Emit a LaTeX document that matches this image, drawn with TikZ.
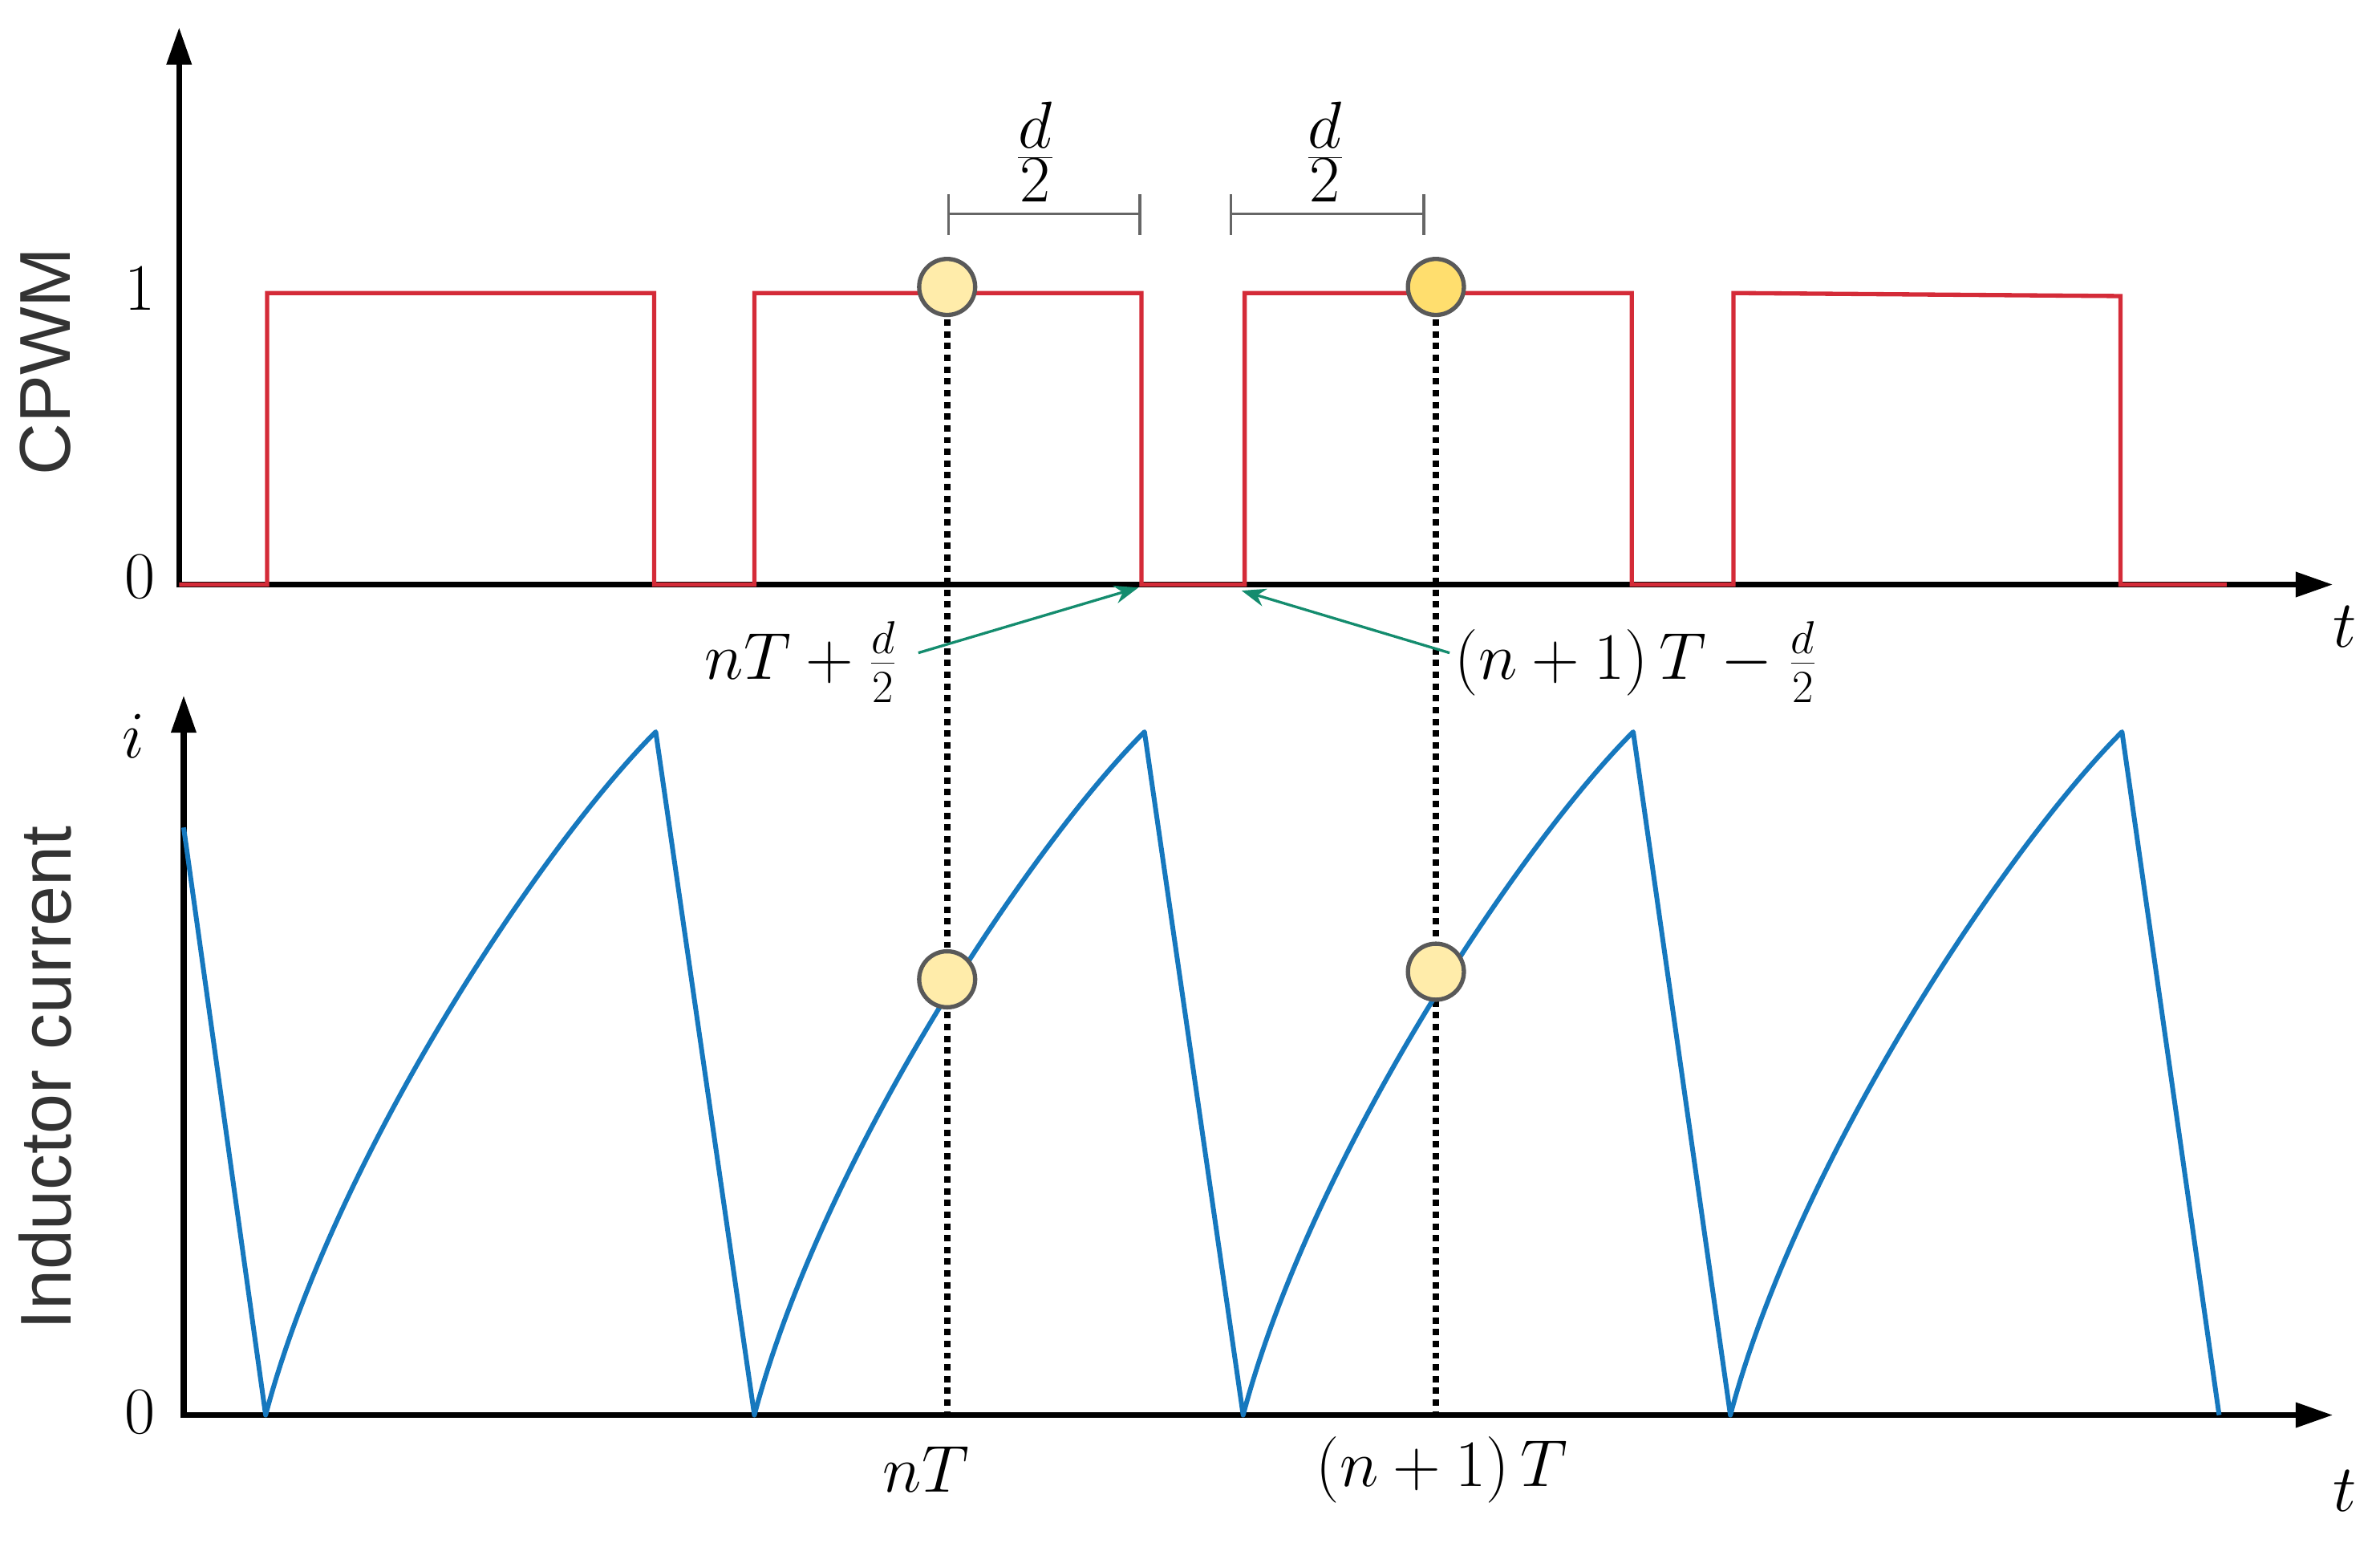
\documentclass[tikz,border=0pt]{standalone}
\usepackage{fontspec}
\newfontfamily\lab{Liberation Sans}
\usetikzlibrary{arrows.meta}
\definecolor{redw}{RGB}{212,43,56}
\definecolor{bluew}{RGB}{22,120,190}
\definecolor{grn}{RGB}{20,140,110}
\definecolor{dotf}{RGB}{255,236,170}
\definecolor{dotg}{RGB}{255,222,110}
\tikzset{ax/.style={line width=2.2pt,-{Triangle[length=14pt,width=9pt]}},
 dotc/.style={circle,draw=black!65,line width=1.6pt,fill=dotf,minimum size=21pt,inner sep=0pt},
 mlab/.style={font=\fontsize{26}{30}\selectfont},
 tlab/.style={font=\fontsize{38}{42}\selectfont},
 ylab/.style={font=\lab\fontsize{27}{30}\selectfont,text=black!80,rotate=90},
 brk/.style={draw=black!60,line width=1pt},
 garr/.style={draw=grn,line width=1pt,-{Stealth[length=9pt]}}}
\begin{document}
\begin{tikzpicture}[x=0.02cm,y=-0.02cm]
\useasboundingbox (0,0) rectangle (1568,1016);
% top
\draw[ax] (118,387) -- (118,18);
\draw[ax] (117,385) -- (1537,385);
\node[tlab] (t1) at (1545,413) {$t$};
\node[mlab] (one) at (92,190) {$1$};
\node[mlab] (z1) at (92,380) {$0$};
\node[ylab] (cp) at (30,238) {CPWM};
\draw[redw,line width=1.6pt] (118,385) -- (176,385) -- (176,193) -- (431,193) -- (431,385) -- (497,385) -- (497,193) -- (752,193) -- (752,385) -- (820,385) -- (820,193) -- (1075,193) -- (1075,385) -- (1142,385) -- (1142,193) -- (1397,195) -- (1397,385) -- (1467,385);
% brackets
\draw[brk] (625,141) -- (751,141); \draw[brk] (625,128) -- (625,155); \draw[brk] (751,128) -- (751,155);
\draw[brk] (811,141) -- (938,141); \draw[brk] (811,128) -- (811,155); \draw[brk] (938,128) -- (938,155);
\node[font=\fontsize{36}{40}\selectfont] (d1) at (682,100) {$\frac{d}{2}$};
\node[font=\fontsize{36}{40}\selectfont] (d2) at (873,100) {$\frac{d}{2}$};
% dotted
\draw[line width=2.4pt,dotted] (624,195) -- (624,932);
\draw[line width=2.4pt,dotted] (946,195) -- (946,932);
\node[dotc] (c1) at (624,189) {};
\node[dotc,fill=dotg] (c2) at (946,189) {};
% labels with arrows
\node[mlab] (l1) at (528,436) {$nT+\frac{d}{2}$};
\node[mlab] (l2) at (1078,436) {$(n+1)\,T-\frac{d}{2}$};
\coordinate (e1) at (750,387); \coordinate (e2) at (818,389);
\coordinate (s1) at (605,430); \coordinate (s2) at (955,430);
\draw[garr] (s1) -- (e1);
\draw[garr] (s2) -- (e2);
% bottom
\draw[ax] (121,934) -- (121,458);
\draw[ax] (120,932) -- (1537,932);
\node[tlab] (t2) at (1545,982) {$t$};
\node[tlab] (ii) at (88,485) {$i$};
\node[mlab] (z2) at (92,930) {$0$};
\node[ylab] (ic) at (30,710) {Inductor current};
\node[mlab] (nT) at (610,968) {$nT$};
\node[mlab] (n1T) at (950,968) {$(n+1)\,T$};
\draw[bluew,line width=1.8pt,line join=round] (121,545) -- (175,932)
 .. controls +(45,-170) and +(-75,75) .. (432,482) -- (497,932)
 .. controls +(45,-170) and +(-75,75) .. (754,482) -- (819,932)
 .. controls +(45,-170) and +(-75,75) .. (1076,482) -- (1140,932)
 .. controls +(45,-170) and +(-75,75) .. (1398,482) -- (1462,932);
\node[dotc] (c3) at (624,645) {};
\node[dotc] (c4) at (946,640) {};
\end{tikzpicture}
\end{document}
